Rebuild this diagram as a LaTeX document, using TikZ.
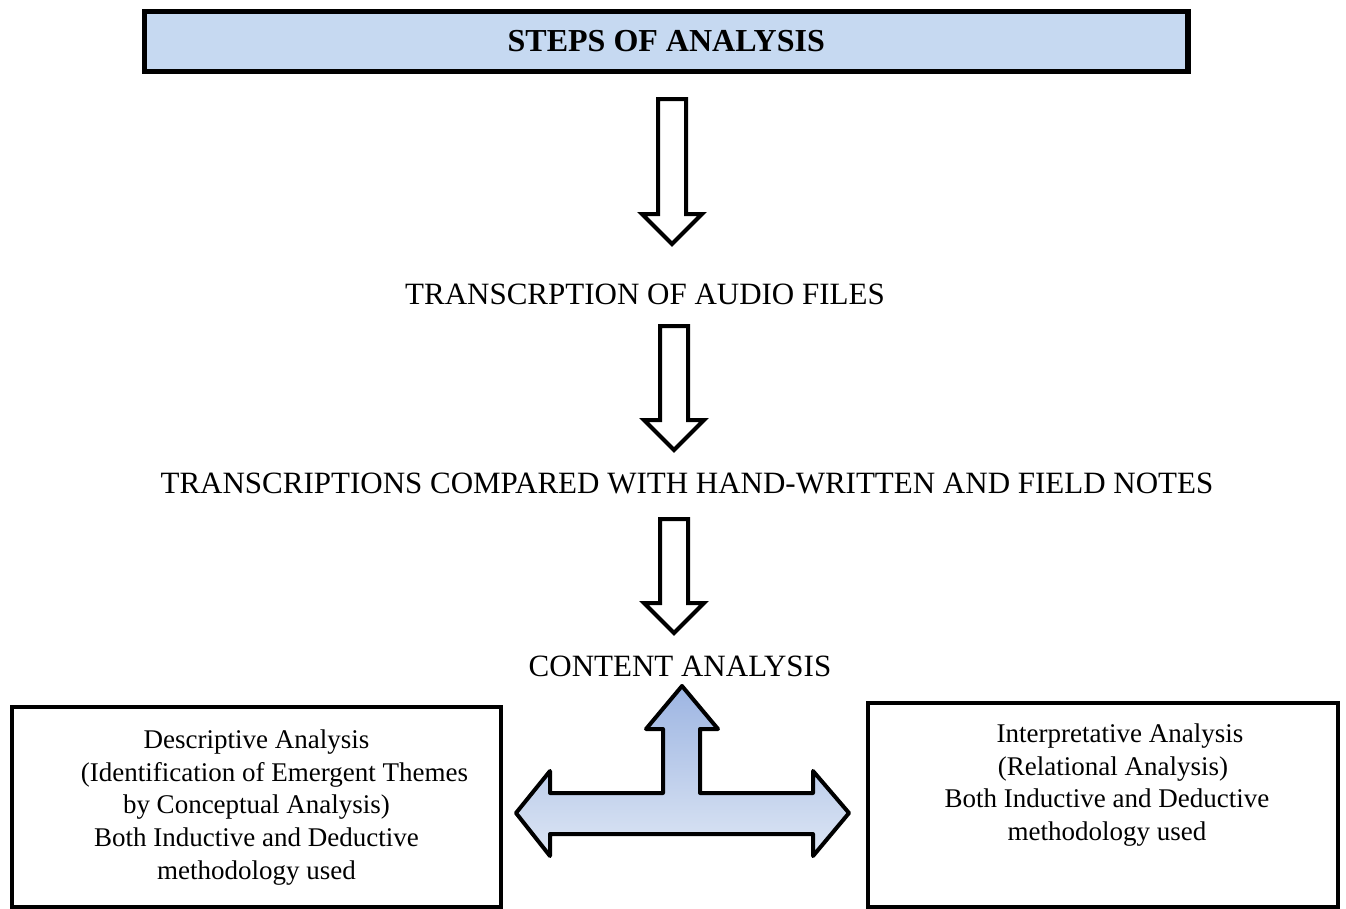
\documentclass[tikz,border=0pt]{standalone}
\usepackage{fontspec}
\setmainfont{Liberation Serif}
\usetikzlibrary{positioning}

\definecolor{titleblue}{RGB}{198,217,241}
\definecolor{tarrowtop}{RGB}{157,181,226}
\definecolor{tarrowbot}{RGB}{221,230,244}

\tikzset{
  titlebox/.style={draw=black, line width=5.5, fill=titleblue, inner sep=0,
    font=\bfseries\fontsize{32}{38}\selectfont},
  steptext/.style={font=\fontsize{31}{37}\selectfont, inner sep=0, anchor=base},
  hollowarrow/.style={draw=black, fill=white, line width=4, line join=miter},
  tarrow/.style={draw=black, line width=4, line join=round,
    top color=tarrowtop, bottom color=tarrowbot},
  boxframe/.style={draw=black, line width=4, rectangle, inner sep=0, outer sep=0,
    anchor=north west},
  boxtext/.style={font=\fontsize{27}{32.7}\selectfont, align=center, inner sep=0}
}

\begin{document}
\begin{tikzpicture}[x=1pt,y=-1pt]
    \useasboundingbox (0,0) rectangle (1346,908);
    \node[titlebox, minimum width=1043.5, minimum height=60] (title) at (666.25,41.5) {STEPS OF ANALYSIS};
    \node[steptext] (transcription) at (645,304) {TRANSCRPTION OF AUDIO FILES};
    \node[steptext] (compared) at (687,493) {TRANSCRIPTIONS COMPARED WITH HAND-WRITTEN AND FIELD NOTES};
    \node[steptext] (content) at (680,676) {CONTENT ANALYSIS};
    % hollow arrows: centre x / top / tip
    \foreach \x/\ya/\yb in {672/99/244, 674/326/450, 674/519/633}
        \draw[hollowarrow] (\x-14,\ya) -- (\x+14,\ya) -- (\x+14,\yb-30) -- (\x+30,\yb-30)
            -- (\x,\yb) -- (\x-30,\yb-30) -- (\x-14,\yb-30) -- cycle;
    % three-way arrow
    \shadedraw[tarrow] (682,686) -- (718,729) -- (700,729) -- (700,793) -- (813,793) -- (813,771)
        -- (849,813) -- (813,856) -- (813,834) -- (550,834) -- (550,856) -- (516,813)
        -- (550,771) -- (550,793) -- (663,793) -- (663,729) -- (646,729) -- cycle;
    \node[boxframe, minimum width=489, minimum height=200] (descbox) at (12,707) {};
    \node[boxtext, below=22.6pt of descbox.north] (desc) {Descriptive Analysis\\
        \hspace*{36pt}(Identification of Emergent Themes\\ by Conceptual Analysis)\\
        Both Inductive and Deductive\\ methodology used};
    \node[boxframe, minimum width=470, minimum height=204] (interpbox) at (868,703) {};
    \node[boxtext, below=20.6pt of interpbox.north, xshift=4pt] (interp) {\hspace*{26pt}Interpretative Analysis\\
        \hspace*{12pt}(Relational Analysis)\\ Both Inductive and Deductive\\ methodology used};
\end{tikzpicture}
\end{document}
